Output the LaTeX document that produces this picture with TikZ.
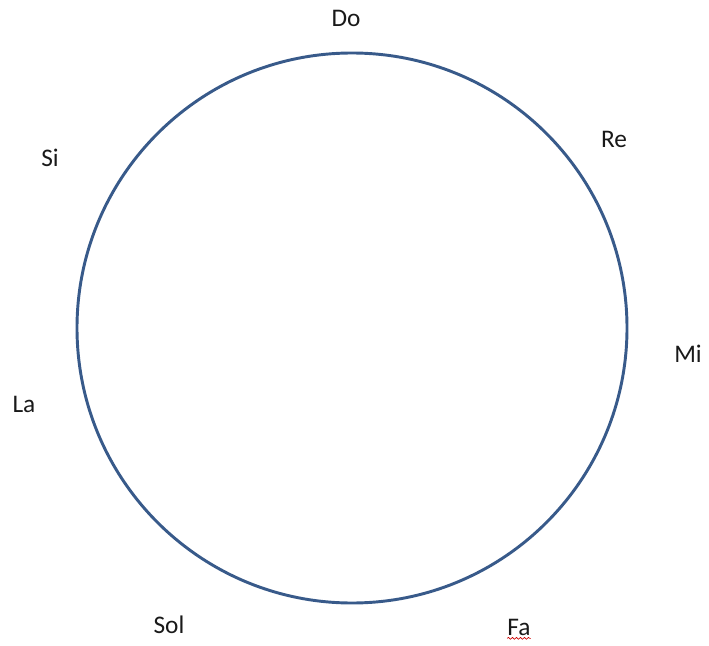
\documentclass[tikz,border=0pt]{standalone}
\usepackage{fontspec}
\setmainfont{Carlito}
\usetikzlibrary{decorations.pathmorphing}
\definecolor{ringblue}{RGB}{56,90,138}

\begin{document}
\begin{tikzpicture}[x=0.75pt, y=-0.75pt, font=\fontsize{19}{22}\selectfont,
		note/.style={anchor=base, inner sep=0pt, text=black!90}]
	\useasboundingbox (0,0) rectangle (709,645);
	% Circle of notes
	\draw[ringblue, line width=2.2pt] (352,328) circle (275);
	
	% Note names
	\foreach \name/\x/\y in {Do/346/27, Re/614/148, Mi/688/362, Fa/519/635, Sol/169/633, La/24/412, Si/50/167} {
		\node[note] (n\name) at (\x,\y) {\name};
	}
	
	% Spelling mark
	\draw[red!80!black, line width=0.5pt, decorate, decoration={snake, amplitude=0.7pt, segment length=3pt}]
		([yshift=-2.5pt]nFa.base west) -- ([yshift=-2.5pt]nFa.base east);
\end{tikzpicture}
\end{document}
